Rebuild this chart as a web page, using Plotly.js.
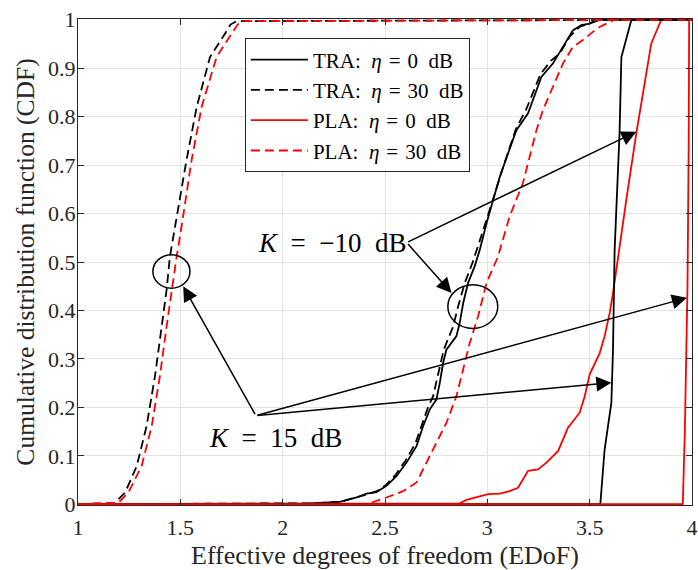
<!DOCTYPE html>
<html>
<head>
<meta charset="utf-8">
<script src="https://cdn.plot.ly/plotly-3.0.1.min.js"></script>
<style>html,body{margin:0;padding:0;background:#fff;}#chart{width:698px;height:570px;}</style>
</head>
<body>
<div id="chart"></div>
<script>
// ---- Data ----
// K = 15 dB
const k15_tra0_x = [1, 3.552, 3.573, 3.606, 3.614, 3.622, 3.646, 3.655, 3.704, 4];
const k15_tra0_y = [0, 0, 0.113, 0.209, 0.319, 0.525, 0.766, 0.923, 1, 1];
const k15_tra30_x = [1, 1.18, 1.23, 1.287, 1.335, 1.376, 1.409, 1.433, 1.449, 1.474, 1.53, 1.58, 1.645, 1.718, 1.745, 1.775, 4];
const k15_tra30_y = [0, 0.003, 0.024, 0.079, 0.161, 0.264, 0.367, 0.443, 0.511, 0.573, 0.71, 0.82, 0.923, 0.971, 0.99, 0.997, 1];
const k15_pla0_x = [1, 3.955, 3.965, 3.978, 3.984, 3.986, 4];
const k15_pla0_y = [0, 0, 0.15, 0.45, 0.75, 1, 1];
const k15_pla30_x = [1, 1.197, 1.246, 1.311, 1.36, 1.4, 1.433, 1.457, 1.482, 1.506, 1.555, 1.604, 1.677, 1.75, 1.78, 1.81, 4];
const k15_pla30_y = [0, 0.003, 0.024, 0.079, 0.161, 0.264, 0.367, 0.443, 0.511, 0.573, 0.71, 0.82, 0.923, 0.971, 0.99, 0.997, 1];
// K = -10 dB
const km10_tra0_x = [1, 2.133, 2.279, 2.361, 2.41, 2.458, 2.507, 2.556, 2.605, 2.654, 2.686, 2.719, 2.751, 2.768, 2.784, 2.8, 2.849, 2.865, 2.882, 2.906, 2.938, 2.963, 2.996, 3.028, 3.061, 3.101, 3.142, 3.199, 3.223, 3.264, 3.321, 3.37, 3.418, 3.459, 3.5, 3.549, 4];
const km10_tra0_y = [0, 0.002, 0.005, 0.014, 0.022, 0.025, 0.038, 0.058, 0.086, 0.12, 0.161, 0.196, 0.216, 0.251, 0.292, 0.319, 0.347, 0.374, 0.415, 0.457, 0.491, 0.525, 0.58, 0.628, 0.676, 0.724, 0.772, 0.807, 0.834, 0.882, 0.91, 0.944, 0.978, 0.989, 0.992, 1, 1];
const km10_tra30_x = [1, 2.14, 2.28, 2.36, 2.41, 2.46, 2.505, 2.55, 2.6, 2.648, 2.68, 2.71, 2.735, 2.755, 2.772, 2.787, 2.833, 2.857, 2.89, 2.927, 2.96, 2.996, 3.03, 3.065, 3.1, 3.14, 3.19, 3.22, 3.26, 3.31, 3.353, 3.402, 3.45, 3.5, 3.55, 4];
const km10_tra30_y = [0, 0.002, 0.005, 0.014, 0.02, 0.027, 0.04, 0.06, 0.09, 0.125, 0.165, 0.2, 0.223, 0.26, 0.295, 0.319, 0.367, 0.408, 0.457, 0.498, 0.54, 0.585, 0.632, 0.68, 0.725, 0.775, 0.815, 0.845, 0.888, 0.915, 0.93, 0.965, 0.985, 0.993, 1, 1];
const km10_pla0_x = [1, 2.865, 2.898, 2.947, 3.004, 3.061, 3.109, 3.15, 3.199, 3.248, 3.289, 3.346, 3.394, 3.451, 3.476, 3.5, 3.549, 3.573, 3.598, 3.614, 3.63, 3.679, 3.728, 3.76, 3.801, 3.85, 4];
const km10_pla0_y = [0, 0.002, 0.009, 0.014, 0.021, 0.022, 0.027, 0.034, 0.069, 0.072, 0.086, 0.11, 0.158, 0.189, 0.223, 0.268, 0.312, 0.347, 0.395, 0.436, 0.484, 0.628, 0.766, 0.848, 0.951, 1, 1];
const km10_pla30_x = [1, 2.41, 2.507, 2.589, 2.654, 2.703, 2.751, 2.8, 2.849, 2.882, 2.914, 2.955, 2.996, 3.052, 3.109, 3.174, 3.207, 3.24, 3.272, 3.321, 3.37, 3.418, 3.467, 3.516, 3.549, 3.62, 4];
const km10_pla30_y = [0, 0, 0.014, 0.027, 0.045, 0.086, 0.127, 0.168, 0.223, 0.278, 0.333, 0.388, 0.457, 0.511, 0.594, 0.663, 0.717, 0.772, 0.814, 0.862, 0.91, 0.944, 0.958, 0.975, 0.985, 1, 1];

const SPW = '\u2002';  // word space (text mode)
const SPM = '\u2004';  // space around "=" (math mode)
const SPA = '\u2002';  // annotation spacing
const legendNames = [
  'TRA:' + SPW + '<i>η</i>' + SPM + '=' + SPM + '0' + SPW + 'dB',
  'TRA:' + SPW + '<i>η</i>' + SPM + '=' + SPM + '30' + SPW + 'dB',
  'PLA:' + SPW + '<i>η</i>' + SPM + '=' + SPM + '0' + SPW + 'dB',
  'PLA:' + SPW + '<i>η</i>' + SPM + '=' + SPM + '30' + SPW + 'dB'
];
const xTicks = [1, 1.5, 2, 2.5, 3, 3.5, 4];
const xTickText = ['1', '1.5', '2', '2.5', '3', '3.5', '4'];
const yTicks = [0, 0.1, 0.2, 0.3, 0.4, 0.5, 0.6, 0.7, 0.8, 0.9, 1];
const yTickText = ['0', '0.1', '0.2', '0.3', '0.4', '0.5', '0.6', '0.7', '0.8', '0.9', '1'];

// annotation anchors (data units)
const labelKm10 = {x: 2.243, y: 0.54, text: '<i>K</i>' + SPA + '=' + SPA + '−10' + SPA + 'dB'};
const labelK15 = {x: 1.966, y: 0.137, text: '<i>K</i>' + SPA + '=' + SPA + '15' + SPA + 'dB'};
const vertexKm10 = [2.606, 0.54];
const tipsKm10 = [[3.728, 0.769], [2.825, 0.436]];
const vertexK15 = [1.869, 0.183];
const tipsK15 = [[1.514, 0.45], [3.606, 0.251], [3.975, 0.426]];
const circleKm10 = [2.807, 0.363, 3.051, 0.453];
const circleK15 = [1.366, 0.446, 1.547, 0.515];

const FONT = 'Liberation Serif, Times New Roman, serif';
const RED = '#ff0000', BLK = '#000000';
const DASH = '9px,5px';

function tr(x, y, color, dash, name, show, idx) {
  return {x: x, y: y, type: 'scatter', mode: 'lines', name: name, showlegend: show,
    legendrank: idx,
    line: {color: color, width: 1.8, dash: dash}, hoverinfo: 'skip'};
}
const traces = [
  tr(km10_tra0_x, km10_tra0_y, BLK, 'solid', legendNames[0], false, 1),
  tr(km10_tra30_x, km10_tra30_y, BLK, DASH, legendNames[1], false, 2),
  tr(km10_pla0_x, km10_pla0_y, RED, 'solid', legendNames[2], false, 3),
  tr(km10_pla30_x, km10_pla30_y, RED, DASH, legendNames[3], false, 4),
  tr(k15_tra0_x, k15_tra0_y, BLK, 'solid', legendNames[0], true, 1),
  tr(k15_tra30_x, k15_tra30_y, BLK, DASH, legendNames[1], true, 2),
  tr(k15_pla0_x, k15_pla0_y, RED, 'solid', legendNames[2], true, 3),
  tr(k15_pla30_x, k15_pla30_y, RED, DASH, legendNames[3], true, 4)
];

const annotations = [];
function arrow(tip, vtx) {
  annotations.push({x: tip[0], y: tip[1], ax: vtx[0], ay: vtx[1], xref: 'x', yref: 'y', axref: 'x', ayref: 'y',
    text: '', showarrow: true, arrowhead: 2, arrowsize: 2, arrowwidth: 1.5, arrowcolor: '#000', standoff: 0, startstandoff: 0});
}
tipsKm10.forEach(t => arrow(t, vertexKm10));
tipsK15.forEach(t => arrow(t, vertexK15));
[labelKm10, labelK15].forEach(l => annotations.push({x: l.x, y: l.y, xref: 'x', yref: 'y', text: l.text, showarrow: false,
  font: {family: FONT, size: 27, color: '#000'}}));

const shapes = [circleKm10, circleK15].map(c => ({type: 'circle', xref: 'x', yref: 'y', x0: c[0], y0: c[1], x1: c[2], y1: c[3],
  line: {color: '#000', width: 1.5}}));

const axisCommon = {showline: true, linecolor: '#262626', linewidth: 1, mirror: 'ticks', ticks: 'inside', ticklen: 6,
  tickcolor: '#262626', showgrid: true, gridcolor: '#e3e3e3', gridwidth: 1, zeroline: false,
  tickfont: {family: FONT, size: 22, color: '#262626'}, tickmode: 'array'};

const layout = {
  width: 698, height: 570,
  margin: {l: 78, r: 6, t: 19, b: 65, pad: 0},
  paper_bgcolor: '#fff', plot_bgcolor: '#fff',
  font: {family: FONT, color: '#262626'},
  xaxis: Object.assign({}, axisCommon, {range: [1, 4], tickvals: xTicks, ticktext: xTickText, ticklabelstandoff: 3,
    title: {text: 'Effective degrees of freedom (EDoF)', font: {family: FONT, size: 26, color: '#262626'}, standoff: 10}}),
  yaxis: Object.assign({}, axisCommon, {range: [-0.0015, 1.0015], tickvals: yTicks, ticktext: yTickText, ticklabelstandoff: -3,
    title: {text: 'Cumulative distribution function (CDF)', font: {family: FONT, size: 25.5, color: '#262626'}, standoff: 6}}),
  legend: {x: 0.2718, y: 0.96, xanchor: 'left', yanchor: 'top', bgcolor: '#fff', bordercolor: '#262626', borderwidth: 1,
    font: {family: FONT, size: 21, color: '#000'}, itemwidth: 57, tracegroupgap: 0, traceorder: 'normal'},
  annotations: annotations,
  shapes: shapes,
  showlegend: true
};

Plotly.newPlot('chart', traces, layout, {staticPlot: true, displayModeBar: false});
</script>
</body>
</html>
